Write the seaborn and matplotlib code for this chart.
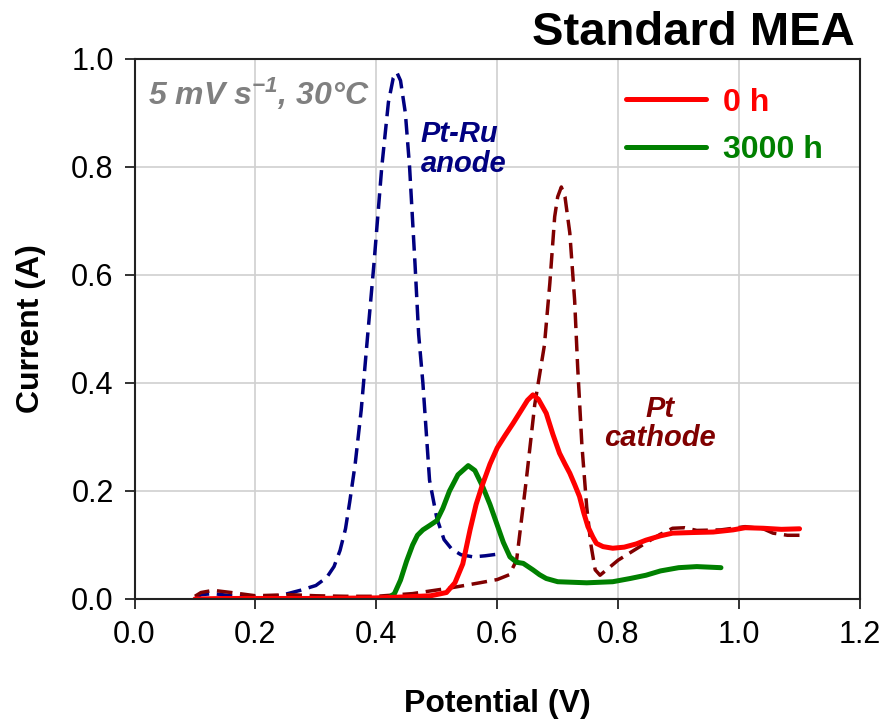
import numpy as np
import pandas as pd
import matplotlib
matplotlib.use("Agg")
import matplotlib.pyplot as plt
import seaborn as sns
from matplotlib.lines import Line2D

# ---------------- data ----------------
anode_v = [0.100, 0.110, 0.130, 0.160, 0.200, 0.240, 0.274, 0.300, 0.318, 0.330, 0.340, 0.349,
           0.356, 0.365, 0.375, 0.385, 0.396, 0.409, 0.420, 0.428, 0.434, 0.440, 0.448, 0.455,
           0.464, 0.470, 0.477, 0.488, 0.500, 0.512, 0.525, 0.540, 0.560, 0.580, 0.600]
anode_i = [0.000, 0.008, 0.010, 0.006, 0.004, 0.006, 0.016, 0.025, 0.040, 0.060, 0.090, 0.130,
           0.180, 0.250, 0.350, 0.480, 0.620, 0.800, 0.920, 0.965, 0.975, 0.960, 0.900, 0.800,
           0.620, 0.490, 0.400, 0.220, 0.150, 0.110, 0.092, 0.082, 0.078, 0.080, 0.083]

cathode_v = [0.100, 0.110, 0.130, 0.160, 0.200, 0.257, 0.300, 0.350, 0.400, 0.460, 0.520, 0.571,
             0.600, 0.620, 0.632, 0.648, 0.662, 0.678, 0.687, 0.695, 0.700, 0.706, 0.712, 0.720,
             0.728, 0.733, 0.740, 0.748, 0.755, 0.762, 0.770, 0.785, 0.800, 0.823, 0.846, 0.870,
             0.890, 0.910, 0.930, 0.970, 1.010, 1.040, 1.056, 1.080, 1.100]
cathode_i = [0.005, 0.012, 0.016, 0.012, 0.006, 0.008, 0.006, 0.005, 0.005, 0.010, 0.020, 0.030,
             0.036, 0.045, 0.072, 0.220, 0.360, 0.470, 0.585, 0.708, 0.745, 0.763, 0.745, 0.678,
             0.553, 0.430, 0.285, 0.170, 0.100, 0.054, 0.044, 0.058, 0.072, 0.088, 0.104, 0.120,
             0.131, 0.132, 0.127, 0.128, 0.134, 0.130, 0.122, 0.118, 0.118]

h0_v = [0.100, 0.150, 0.200, 0.300, 0.400, 0.450, 0.490, 0.516, 0.530, 0.543, 0.555, 0.565,
        0.575, 0.588, 0.600, 0.613, 0.626, 0.640, 0.650, 0.659, 0.668, 0.681, 0.692, 0.703,
        0.712, 0.720, 0.728, 0.736, 0.743, 0.750, 0.758, 0.764, 0.775, 0.791, 0.810, 0.830,
        0.846, 0.870, 0.890, 0.920, 0.957, 0.990, 1.010, 1.040, 1.070, 1.100]
h0_i = [0.000, 0.001, 0.001, 0.001, 0.002, 0.004, 0.006, 0.012, 0.030, 0.065, 0.128, 0.175,
        0.210, 0.250, 0.280, 0.303, 0.325, 0.350, 0.368, 0.378, 0.370, 0.344, 0.305, 0.270,
        0.250, 0.233, 0.212, 0.190, 0.160, 0.134, 0.115, 0.103, 0.097, 0.094, 0.096, 0.102,
        0.109, 0.117, 0.122, 0.123, 0.124, 0.128, 0.132, 0.131, 0.129, 0.130]

h3000_v = [0.250, 0.300, 0.350, 0.400, 0.420, 0.430, 0.440, 0.450, 0.460, 0.468, 0.477, 0.488,
           0.500, 0.510, 0.521, 0.535, 0.552, 0.563, 0.576, 0.588, 0.599, 0.610, 0.621, 0.632,
           0.643, 0.659, 0.670, 0.681, 0.700, 0.748, 0.791, 0.820, 0.846, 0.870, 0.900, 0.930,
           0.970]
h3000_i = [0.000, 0.001, 0.001, 0.001, 0.002, 0.010, 0.035, 0.070, 0.100, 0.118, 0.128, 0.136,
           0.145, 0.168, 0.200, 0.230, 0.247, 0.238, 0.208, 0.175, 0.140, 0.105, 0.078, 0.068,
           0.066, 0.054, 0.045, 0.038, 0.032, 0.030, 0.032, 0.038, 0.044, 0.052, 0.058, 0.060,
           0.058]

legend_labels = ["0 h", "3000 h"]
x_ticks = [0.0, 0.2, 0.4, 0.6, 0.8, 1.0, 1.2]
y_ticks = [0.0, 0.2, 0.4, 0.6, 0.8, 1.0]

# ---------------- style ----------------
sns.set_theme(style="whitegrid")
plt.rcParams['font.family'] = ['Liberation Sans', 'DejaVu Sans']
plt.rcParams['mathtext.fontset'] = 'custom'
plt.rcParams['mathtext.rm'] = 'Liberation Sans:italic:bold'
plt.rcParams['mathtext.it'] = 'Liberation Sans:italic:bold'
plt.rcParams['mathtext.bf'] = 'Liberation Sans:italic:bold'
plt.rcParams['mathtext.default'] = 'rm'

RED = "#FF0000"
GREEN = "#008000"
NAVY = "#000080"
DARKRED = "#800000"

fig = plt.figure(figsize=(8.86, 7.2), dpi=100)
ax = fig.add_axes([134.5 / 886, 1 - 599 / 720, (860 - 134.5) / 886, (599 - 59) / 720])
ax.set_facecolor("white")

dash = (0, (4.5, 2.2))
df_a = pd.DataFrame({"V": anode_v, "I": anode_i})
df_c = pd.DataFrame({"V": cathode_v, "I": cathode_i})
df_0 = pd.DataFrame({"V": h0_v, "I": h0_i})
df_3 = pd.DataFrame({"V": h3000_v, "I": h3000_i})

sns.lineplot(data=df_a, x="V", y="I", ax=ax, color=NAVY, lw=2.5, sort=False, estimator=None)
ax.lines[-1].set_linestyle(dash)
sns.lineplot(data=df_c, x="V", y="I", ax=ax, color=DARKRED, lw=2.5, sort=False, estimator=None)
ax.lines[-1].set_linestyle(dash)
sns.lineplot(data=df_3, x="V", y="I", ax=ax, color=GREEN, lw=3.6, sort=False, estimator=None,
             solid_capstyle="round", solid_joinstyle="round")
sns.lineplot(data=df_0, x="V", y="I", ax=ax, color=RED, lw=3.6, sort=False, estimator=None,
             solid_capstyle="round", solid_joinstyle="round")

ax.set_xlim(0, 1.2)
ax.set_ylim(0, 1.0)
ax.set_xticks(x_ticks)
ax.set_yticks(y_ticks)
ax.set_xticklabels([f"{t:.1f}" for t in x_ticks])
ax.set_yticklabels([f"{t:.1f}" for t in y_ticks])
ax.tick_params(axis="both", labelsize=22, colors="black", direction="out", length=7,
               width=1.3, pad=8, bottom=True, left=True)
ax.tick_params(axis="both", color="#222222")
ax.grid(True, color="#d0d0d0", lw=1.2)
for s in ax.spines.values():
    s.set_visible(True)
    s.set_color("#222222")
    s.set_linewidth(1.5)

ax.set_xlabel("Potential (V)", fontsize=23, fontweight="bold", labelpad=28, color="black")
ax.set_ylabel("Current (A)", fontsize=23, fontweight="bold", labelpad=18, color="black")

# legend
handles = [Line2D([], [], color=RED, lw=3.6, solid_capstyle="round"),
           Line2D([], [], color=GREEN, lw=3.6, solid_capstyle="round")]
leg = ax.legend(handles, legend_labels, loc="upper left", bbox_to_anchor=(0.677, 0.947),
                frameon=False, borderpad=0, borderaxespad=0, handlelength=2.5,
                handletextpad=0.55, labelspacing=0.55,
                prop={"size": 23, "weight": "bold"})
for txt, c in zip(leg.get_texts(), [RED, GREEN]):
    txt.set_color(c)

# annotations
ax.text(0.022, 0.915, r"5 mV s$^{-1}$, 30°C", color="#808080", fontsize=23,
        fontweight="bold", fontstyle="italic", ha="left", va="baseline")
ax.text(0.4735, 0.887, "Pt-Ru\nanode", color=NAVY, fontsize=21, fontweight="bold",
        fontstyle="italic", ha="left", va="top", linespacing=1.1)
ax.text(0.8686, 0.378, "Pt\ncathode", color=DARKRED, fontsize=21, fontweight="bold",
        fontstyle="italic", ha="center", va="top", linespacing=1.05)

fig.text(855 / 886, 1 - 45 / 720, "Standard MEA", fontsize=34, fontweight="bold",
         ha="right", va="baseline", color="black")

fig.savefig("out.png", dpi=100, facecolor="white")
